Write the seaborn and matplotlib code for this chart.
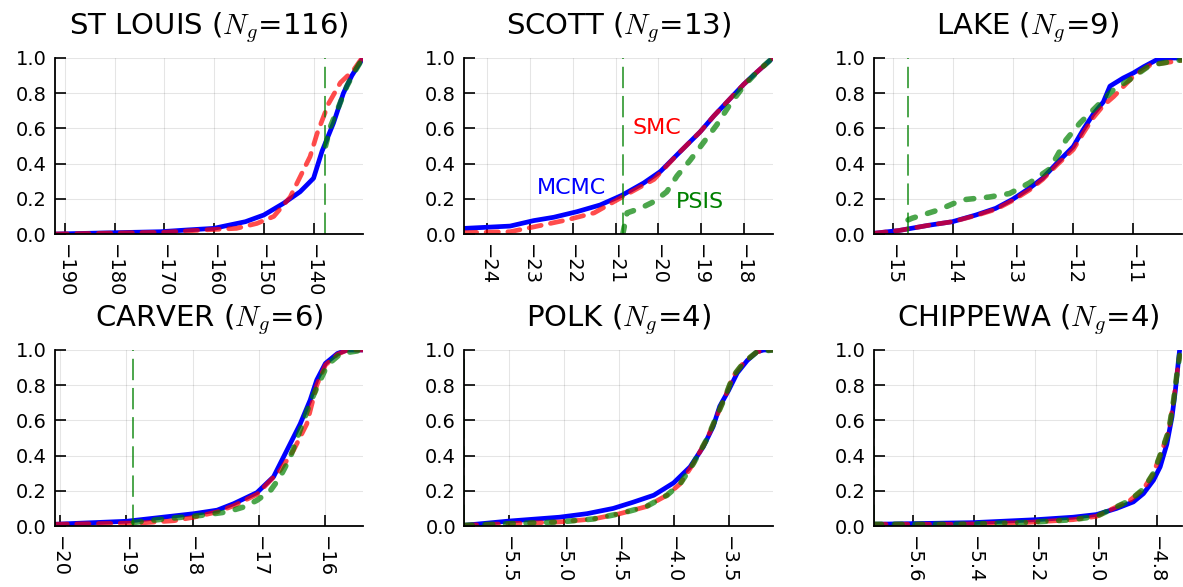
import numpy as np
import pandas as pd
import matplotlib
matplotlib.use("Agg")
import matplotlib.pyplot as plt
import seaborn as sns

sns.set_style("white")
plt.rcParams["font.family"] = ["DejaVu Sans"]
plt.rcParams["mathtext.fontset"] = "cm"
plt.rcParams["text.color"] = "black"
plt.rcParams["xtick.color"] = "black"
plt.rcParams["ytick.color"] = "black"

# counties, group sizes and axis settings
counties = ["ST LOUIS", "SCOTT", "LAKE", "CARVER", "POLK", "CHIPPEWA"]
n_groups = [116, 13, 9, 6, 4, 4]
xlims = [(-192, -130), (-24.54, -17.32), (-15.32, -10.19),
         (-20.07, -15.43), (-5.905, -3.098), (-5.73, -4.717)]
xticks = [[-190, -180, -170, -160, -150, -140],
          [-24, -23, -22, -21, -20, -19, -18],
          [-15, -14, -13, -12, -11],
          [-20, -19, -18, -17, -16],
          [-5.5, -5.0, -4.5, -4.0, -3.5],
          [-5.6, -5.4, -5.2, -5.0, -4.8]]
psis_vline = [-137.6, -20.83, -14.75, -18.89, -5.905, -5.73]

# ECDF curves: (x values, cumulative probability)
mcmc_x = [
    [-192, -170.8, -165.4, -160.1, -153.7, -150.0, -146.0, -142.7, -140.0, -138.3, -136.0, -134.0, -132.3, -130.3, -130],
    [-24.54, -23.47, -22.92, -22.45, -21.9, -21.36, -20.85, -20.34, -19.95, -19.56, -19.25, -19.02, -18.7, -18.39, -18.0, -17.69, -17.32],
    [-15.32, -14.9, -14.4, -14.01, -13.62, -13.29, -13.01, -12.73, -12.51, -12.28, -12.0, -11.84, -11.67, -11.5, -11.39, -11.17, -11.0, -10.83, -10.61, -10.44, -10.19],
    [-20.07, -18.99, -17.98, -17.63, -17.38, -17.03, -16.78, -16.58, -16.38, -16.23, -16.13, -16.0, -15.82, -15.67, -15.43],
    [-5.905, -5.5, -5.04, -4.79, -4.55, -4.37, -4.18, -4.0, -3.85, -3.73, -3.64, -3.58, -3.5, -3.42, -3.33, -3.24, -3.18, -3.098],
    [-5.73, -5.405, -5.196, -5.075, -4.998, -4.932, -4.877, -4.844, -4.811, -4.789, -4.767, -4.75, -4.739, -4.73, -4.725],
]
mcmc_p = [
    [0.0, 0.013, 0.023, 0.032, 0.07, 0.108, 0.175, 0.24, 0.317, 0.47, 0.63, 0.80, 0.90, 0.99, 1.0],
    [0.032, 0.045, 0.076, 0.095, 0.127, 0.165, 0.22, 0.29, 0.355, 0.45, 0.525, 0.58, 0.67, 0.75, 0.85, 0.92, 1.0],
    [0.004, 0.02, 0.05, 0.07, 0.108, 0.146, 0.197, 0.26, 0.317, 0.40, 0.497, 0.59, 0.68, 0.75, 0.84, 0.886, 0.915, 0.95, 0.99, 1.0, 1.0],
    [0.01, 0.027, 0.07, 0.09, 0.127, 0.19, 0.28, 0.43, 0.58, 0.715, 0.83, 0.924, 0.98, 1.0, 1.0],
    [0.004, 0.028, 0.05, 0.07, 0.1, 0.135, 0.175, 0.245, 0.336, 0.45, 0.565, 0.68, 0.77, 0.87, 0.94, 0.99, 1.0, 1.0],
    [0.01, 0.019, 0.036, 0.05, 0.065, 0.1, 0.137, 0.184, 0.26, 0.336, 0.465, 0.62, 0.77, 0.92, 1.0],
]
smc_x = [
    [-192, -170, -162.0, -155.5, -151.4, -148.0, -144.7, -140.7, -139.3, -137.0, -134.6, -132.0, -130.5, -130],
    [-24.54, -23.47, -22.92, -22.14, -21.5, -21.1, -20.7, -20.1, -19.56, -19.25, -19.02, -18.7, -18.39, -18.0, -17.69, -17.32],
    [-15.32, -14.9, -14.4, -14.01, -13.62, -13.29, -13.01, -12.73, -12.51, -12.28, -12.0, -11.84, -11.67, -11.5, -11.33, -11.0, -10.72, -10.19],
    [-20.07, -18.79, -18.28, -17.98, -17.63, -17.38, -17.03, -16.68, -16.48, -16.28, -16.13, -16.0, -15.82, -15.67, -15.43],
    [-5.905, -5.5, -5.04, -4.73, -4.49, -4.25, -4.06, -3.94, -3.82, -3.7, -3.61, -3.53, -3.46, -3.36, -3.24, -3.098],
    [-5.73, -5.46, -5.24, -5.075, -4.998, -4.943, -4.888, -4.844, -4.811, -4.783, -4.761, -4.745, -4.734, -4.725],
]
smc_p = [
    [0.0, 0.01, 0.023, 0.032, 0.06, 0.10, 0.21, 0.44, 0.57, 0.74, 0.86, 0.93, 0.99, 1.0],
    [0.008, 0.013, 0.04, 0.08, 0.12, 0.175, 0.23, 0.31, 0.45, 0.525, 0.58, 0.67, 0.75, 0.85, 0.92, 1.0],
    [0.004, 0.02, 0.05, 0.07, 0.105, 0.14, 0.19, 0.25, 0.31, 0.39, 0.48, 0.57, 0.66, 0.73, 0.78, 0.896, 0.96, 0.987],
    [0.01, 0.017, 0.03, 0.05, 0.08, 0.115, 0.18, 0.317, 0.43, 0.58, 0.80, 0.915, 0.975, 1.0, 1.0],
    [0.004, 0.013, 0.023, 0.04, 0.07, 0.11, 0.175, 0.24, 0.355, 0.49, 0.62, 0.735, 0.85, 0.93, 0.99, 1.0],
    [0.01, 0.01, 0.019, 0.036, 0.055, 0.1, 0.146, 0.21, 0.3, 0.43, 0.54, 0.71, 0.86, 0.97],
]
psis_x = [
    [-137.6, -136.6, -135.0, -133.3, -132.0, -130.3, -130],
    [-20.83, -20.73, -20.42, -20.1, -19.8, -19.56, -19.25, -18.94, -18.63, -18.31, -18.0, -17.69, -17.32],
    [-14.75, -14.68, -14.24, -13.85, -13.4, -13.06, -12.73, -12.39, -12.12, -11.89, -11.61, -11.33, -11.06, -10.72, -10.19],
    [-18.89, -18.38, -17.88, -17.48, -17.23, -17.03, -16.83, -16.68, -16.53, -16.38, -16.23, -16.1, -15.97, -15.77, -15.43],
    [-5.905, -5.5, -5.04, -4.73, -4.49, -4.25, -4.06, -3.94, -3.82, -3.7, -3.61, -3.53, -3.46, -3.36, -3.24, -3.098],
    [-5.73, -5.46, -5.24, -5.075, -4.998, -4.943, -4.888, -4.844, -4.811, -4.783, -4.761, -4.745, -4.734, -4.725],
]
psis_p = [
    [0.5, 0.61, 0.72, 0.84, 0.91, 0.99, 1.0],
    [0.0, 0.12, 0.146, 0.184, 0.24, 0.33, 0.42, 0.52, 0.62, 0.74, 0.84, 0.92, 1.0],
    [0.08, 0.09, 0.137, 0.194, 0.21, 0.23, 0.29, 0.37, 0.535, 0.63, 0.725, 0.82, 0.877, 0.96, 0.99],
    [0.02, 0.042, 0.06, 0.08, 0.108, 0.146, 0.2, 0.28, 0.39, 0.545, 0.70, 0.81, 0.915, 0.98, 1.0],
    [0.004, 0.013, 0.023, 0.04, 0.07, 0.11, 0.175, 0.24, 0.355, 0.49, 0.62, 0.735, 0.85, 0.93, 0.99, 1.0],
    [0.01, 0.01, 0.019, 0.036, 0.055, 0.1, 0.146, 0.21, 0.3, 0.43, 0.54, 0.71, 0.86, 0.97],
]

# method labels in the SCOTT panel
label_text = ["MCMC", "SMC", "PSIS"]
label_x = [-22.02, -20.03, -19.02]
label_y = [0.26, 0.60, 0.18]
label_col = ["#0000ff", "#ff0000", "#008000"]

fig, axes = plt.subplots(2, 3, figsize=(11.83, 5.87), dpi=100)
fig.subplots_adjust(left=0.0465, right=0.9992, bottom=0.1039, top=0.9012,
                    wspace=0.328, hspace=0.659)

for i, ax in enumerate(axes.flat):
    sns.lineplot(x=mcmc_x[i], y=mcmc_p[i], ax=ax, color="#0000ff", lw=3.4,
                 sort=False, estimator=None, solid_capstyle="round",
                 solid_joinstyle="round")
    sns.lineplot(x=smc_x[i], y=smc_p[i], ax=ax, color="#ff0000", alpha=0.7, lw=3.4,
                 sort=False, estimator=None, dashes=False,
                 linestyle=(0, (2.6, 2.0)), dash_capstyle="round")
    sns.lineplot(x=psis_x[i], y=psis_p[i], ax=ax, color="#008000", alpha=0.7, lw=4,
                 sort=False, estimator=None, dashes=False,
                 linestyle=(0, (1.4, 2.3)), dash_capstyle="round")
    ax.axvline(psis_vline[i], color="#008000", alpha=0.7, lw=1.4,
               linestyle=(0, (11, 4)))

    ax.set_xlim(*xlims[i])
    ax.set_ylim(0, 1)
    ax.set_xticks(xticks[i])
    ax.set_yticks([0, 0.2, 0.4, 0.6, 0.8, 1.0])
    ax.set_yticklabels(["0.0", "0.2", "0.4", "0.6", "0.8", "1.0"])
    ax.grid(True, color="black", alpha=0.1, lw=0.8)
    ax.tick_params(axis="both", direction="in", length=8, width=1.2,
                   labelsize=14, color="black", labelcolor="black",
                   bottom=True, left=True)
    ax.tick_params(axis="x", pad=7, labelrotation=-90)
    ax.tick_params(axis="y", pad=6)
    for s in ["top", "right"]:
        ax.spines[s].set_visible(False)
    for s in ["left", "bottom"]:
        ax.spines[s].set_color("black")
        ax.spines[s].set_linewidth(1.3)
    ax.set_xlabel("")
    ax.set_ylabel("")
    ax.set_title(f"{counties[i]} ($N_g$={n_groups[i]})", fontsize=21,
                 pad=17, color="black")

ax = axes.flat[1]
for t, x, y, c in zip(label_text, label_x, label_y, label_col):
    ax.text(x, y, t, color=c, fontsize=16, ha="center", va="center")

fig.savefig("out.png", dpi=100)
